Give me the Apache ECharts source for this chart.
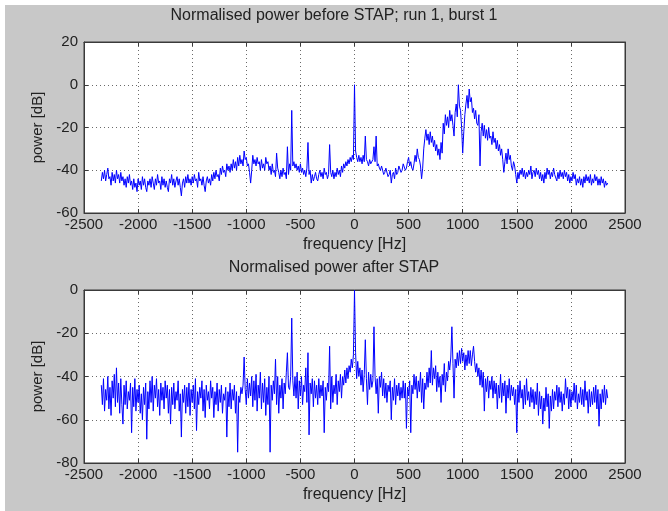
<!DOCTYPE html>
<html>
<head>
<meta charset="utf-8">
<script src="https://cdn.jsdelivr.net/npm/echarts@6/dist/echarts.min.js"></script>
<style>
html,body{margin:0;padding:0;background:#fff;}
#bg{position:absolute;left:5px;top:5px;width:663px;height:506px;background:#c8c8c8;}
#chart{position:absolute;left:0;top:0;width:668px;height:511px;}
</style>
</head>
<body>
<div id="bg"></div>
<div id="chart"></div>
<script>
// sampling grid of the spectra (Hz)
const freqStart = -2340;
const freqStep = 10;

const xTicks = [-2500,-2000,-1500,-1000,-500,0,500,1000,1500,2000,2500];

const titleBefore = 'Normalised power before STAP; run 1, burst 1';
const titleAfter = 'Normalised power after STAP';

// power [dB] before STAP, one value per 10 Hz from -2340 Hz (20 values = 200 Hz per row)
const powerBefore = [
-45,-41,-44,-40,-45,-42,-39,-44,-43,-47,-41,-45,-42,-46,-40,-44,-42,-46,-41,-45,
-43,-47,-44,-48,-43,-46,-42,-47,-45,-49,-44,-48,-46,-50,-44,-47,-45,-49,-43,-47,
-44,-48,-50,-45,-47,-44,-48,-43,-46,-49,-44,-47,-42,-46,-45,-49,-43,-47,-44,-48,
-45,-48,-50,-44,-46,-42,-47,-44,-48,-45,-43,-47,-44,-48,-52,-46,-44,-48,-43,-46,
-42,-46,-44,-47,-43,-46,-42,-45,-44,-48,-41,-45,-44,-47,-43,-47,-50,-45,-43,-46,
-44,-47,-42,-45,-41,-44,-40,-43,-42,-45,-39,-42,-38,-41,-40,-43,-37,-40,-38,-41,
-37,-40,-35,-39,-36,-40,-34,-38,-33,-37,-35,-38,-31,-35,-34,-38,-37,-41,-46,-40,
-33,-37,-35,-38,-34,-37,-36,-40,-35,-39,-37,-40,-34,-37,-36,-40,-38,-42,-37,-41,
-40,-43,-32,-39,-41,-44,-40,-43,-39,-42,-41,-44,-29,-42,-37,-40,-12,-38,-36,-39,
-37,-40,-38,-41,-37,-41,-39,-42,-40,-43,-39,-27,-42,-40,-46,-42,-45,-43,-41,-44,
-45,-42,-40,-43,-41,-44,-39,-42,-41,-44,-42,-28,-41,-43,-40,-44,-41,-43,-39,-42,
-40,-43,-38,-41,-37,-39,-36,-38,-35,-37,-34,-36,-33,-35,0,-31,-34,-36,-33,-36,
-34,-37,-33,-36,-24,-35,-36,-38,-35,-37,-37,-35,-29,-36,-24,-38,-37,-39,-40,-38,
-38,-42,-41,-39,-39,-43,-42,-40,-46,-42,-41,-44,-39,-42,-41,-38,-38,-41,-40,-37,
-37,-40,-39,-36,-34,-38,-36,-39,-40,-37,-33,-36,-30,-34,-35,-38,-44,-39,-30,-25,
-21,-26,-23,-28,-22,-27,-24,-29,-26,-31,-28,-33,-30,-35,-27,-32,-18,-23,-14,-19,
-15,-20,-12,-17,-14,-19,-24,-13,-9,-15,0,-10,-12,-20,-32,-22,-14,-9,-5,-11,
-2,-8,-6,-13,-11,-16,-12,-18,-19,-14,-38,-22,-18,-24,-19,-25,-21,-26,-20,-25,
-24,-28,-22,-27,-25,-30,-26,-31,-28,-33,-30,-35,-41,-36,-32,-37,-30,-35,-33,-38,
-40,-36,-38,-42,-46,-41,-44,-40,-42,-39,-43,-40,-44,-41,-43,-40,-42,-38,-44,-41,
-40,-43,-39,-42,-40,-44,-41,-45,-42,-46,-41,-44,-39,-42,-40,-44,-41,-43,-39,-42,
-42,-45,-41,-44,-40,-43,-41,-44,-40,-43,-41,-45,-42,-46,-43,-45,-41,-44,-42,-47,
-44,-46,-43,-47,-44,-48,-43,-46,-42,-45,-43,-46,-42,-47,-44,-46,-42,-45,-43,-47,
-44,-47,-43,-46,-44,-48,-45,-47,-46
];

// power [dB] after STAP, one value per 10 Hz from -2340 Hz (20 values = 200 Hz per row)
const powerAfter = [
-44,-53,-41,-56,-46,-51,-40,-55,-45,-58,-42,-50,-39,-54,-36,-52,-43,-57,-41,-53,
-62,-44,-53,-42,-55,-47,-51,-43,-66,-45,-54,-41,-56,-46,-52,-44,-57,-48,-60,-45,
-53,-43,-69,-47,-55,-42,-52,-40,-56,-44,-50,-41,-54,-46,-58,-43,-51,-45,-55,-42,
-50,-44,-57,-46,-62,-45,-53,-43,-55,-47,-51,-42,-56,-48,-68,-46,-52,-44,-57,-45,
-54,-43,-58,-46,-52,-44,-55,-41,-65,-47,-53,-45,-50,-42,-56,-46,-59,-44,-51,-47,
-55,-42,-50,-45,-59,-47,-53,-43,-56,-46,-52,-44,-57,-48,-51,-45,-68,-47,-54,-43,
-55,-46,-51,-44,-57,-47,-75,-49,-52,-45,-48,-44,-31,-46,-53,-41,-50,-43,-49,-40,
-54,-42,-51,-39,-56,-44,-50,-38,-55,-43,-52,-41,-58,-45,-53,-40,-75,-44,-51,-42,
-48,-32,-53,-40,-57,-44,-50,-41,-55,-43,-48,-38,-29,-45,-46,-40,-13,-42,-49,-40,
-50,-38,-55,-42,-49,-40,-53,-44,-47,-36,-52,-29,-67,-43,-48,-41,-54,-42,-50,-44,
-53,-41,-50,-44,-49,-42,-66,-45,-51,-43,-47,-26,-55,-40,-52,-44,-48,-39,-53,-42,
-47,-39,-50,-40,-44,-37,-43,-36,-41,-35,-38,-32,-36,-30,0,-29,-41,-33,-40,-36,
-44,-37,-47,-39,-23,-41,-53,-38,-46,-39,-45,-42,-17,-40,-48,-41,-57,-40,-45,-38,
-49,-41,-50,-43,-52,-44,-47,-42,-60,-45,-51,-41,-53,-44,-49,-43,-51,-45,-50,-42,
-50,-43,-64,-45,-49,-42,-66,-44,-48,-39,-46,-40,-50,-42,-47,-38,-52,-41,-55,-43,
-46,-38,-45,-36,-43,-28,-44,-36,-41,-35,-47,-38,-45,-40,-52,-39,-44,-34,-47,-38,
-42,-33,-37,-31,-17,-34,-50,-32,-36,-29,-35,-28,-34,-27,-33,-29,-37,-30,-35,-28,
-34,-28,-35,-30,-26,-33,-38,-34,-40,-36,-44,-37,-45,-38,-56,-41,-47,-40,-50,-42,
-46,-40,-50,-42,-48,-43,-55,-44,-50,-39,-52,-43,-49,-42,-57,-44,-50,-41,-51,-44,
-49,-45,-53,-46,-66,-44,-52,-42,-50,-46,-55,-44,-53,-41,-51,-47,-54,-45,-52,-46,
-55,-47,-53,-43,-58,-47,-55,-49,-62,-50,-56,-45,-54,-48,-64,-49,-56,-46,-55,-47,
-51,-44,-54,-45,-52,-47,-56,-48,-53,-41,-50,-45,-55,-46,-54,-47,-51,-43,-52,-44,
-55,-48,-52,-45,-53,-46,-54,-42,-51,-47,-57,-46,-54,-47,-53,-45,-52,-44,-55,-46,
-63,-48,-55,-46,-52,-44,-53,-46,-50
];

function pairs(vals){ return vals.map((v,i)=>[freqStart + i*freqStep, v]); }

const FONT = 'Liberation Sans, Arial, sans-serif';
const TXT = '#222';
const BOX = '#3a3a3a';
const GRIDC = '#6a6a6a';

function xAx(grid, withLabels){
  return {
    type:'value', gridIndex:grid, min:xTicks[0], max:xTicks[xTicks.length-1], interval:500,
    position: withLabels ? 'bottom' : 'top',
    axisLine:{show:true, onZero:false, lineStyle:{color:BOX, width:1}},
    axisTick:{show:true, inside:true, length:4, lineStyle:{color:BOX}},
    axisLabel:{show:withLabels, color:TXT, fontFamily:FONT, fontSize:15, margin:4, formatter:v=>String(v)},
    splitLine:{show:withLabels, lineStyle:{color:GRIDC, type:[1,3], width:1}},
    name: withLabels ? 'frequency [Hz]' : '',
    nameLocation:'middle', nameGap:24,
    nameTextStyle:{color:TXT, fontFamily:FONT, fontSize:16}
  };
}
function yAx(grid, min, max, withLabels){
  return {
    type:'value', gridIndex:grid, min:min, max:max, interval:20,
    position: withLabels ? 'left' : 'right',
    axisLine:{show:true, onZero:false, lineStyle:{color:BOX, width:1}},
    axisTick:{show:true, inside:true, length:4, lineStyle:{color:BOX}},
    axisLabel:{show:withLabels, color:TXT, fontFamily:FONT, fontSize:15, margin:6, formatter:v=>String(v)},
    splitLine:{show:withLabels, lineStyle:{color:GRIDC, type:[1,3], width:1}},
    name: withLabels ? 'power [dB]' : '',
    nameLocation:'middle', nameGap:38, nameRotate:90,
    nameTextStyle:{color:TXT, fontFamily:FONT, fontSize:15}
  };
}

const chart = echarts.init(document.getElementById('chart'), null, {renderer:'canvas'});
chart.setOption({
  animation:false,
  backgroundColor:'transparent',
  title:[
    {text:titleBefore, left:'center', top:3, textStyle:{color:TXT, fontFamily:FONT, fontSize:16, fontWeight:'normal'}},
    {text:titleAfter, left:'center', top:255, textStyle:{color:TXT, fontFamily:FONT, fontSize:16, fontWeight:'normal'}}
  ],
  grid:[
    {left:84, top:42, width:541, height:171, show:true, backgroundColor:'#fff', borderColor:BOX, borderWidth:1},
    {left:84, top:290, width:541, height:173, show:true, backgroundColor:'#fff', borderColor:BOX, borderWidth:1}
  ],
  xAxis:[xAx(0,true), xAx(0,false), xAx(1,true), xAx(1,false)],
  yAxis:[yAx(0,-60,20,true), yAx(0,-60,20,false), yAx(1,-80,0,true), yAx(1,-80,0,false)],
  series:[
    {type:'line', xAxisIndex:0, yAxisIndex:0, data:pairs(powerBefore), showSymbol:false, symbol:'none',
     lineStyle:{color:'#0000ff', width:1}, itemStyle:{color:'#0000ff'}},
    {type:'line', xAxisIndex:2, yAxisIndex:2, data:pairs(powerAfter), showSymbol:false, symbol:'none',
     lineStyle:{color:'#0000ff', width:1}, itemStyle:{color:'#0000ff'}}
  ]
});
</script>
</body>
</html>
